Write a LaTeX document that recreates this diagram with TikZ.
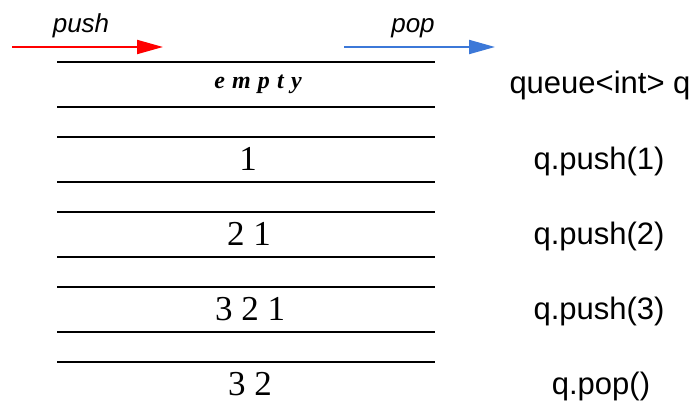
\documentclass[tikz,border=0pt]{standalone}
\usepackage{fontspec}
\setmainfont{Liberation Serif}
\newfontfamily\arialfont{Liberation Sans}
\newfontfamily\emptyfont[LetterSpace=30]{Liberation Serif Bold Italic}
\usetikzlibrary{arrows.meta}
\definecolor{pushred}{RGB}{255,0,0}
\definecolor{popblue}{RGB}{60,120,216}
\begin{document}
\begin{tikzpicture}[x=1pt,y=-1pt,
  rowline/.style={line width=2pt,black},
  digits/.style={anchor=base,inner sep=0pt,font=\fontsize{35}{40}\selectfont},
  oplabel/.style={anchor=base,inner sep=0pt,font=\arialfont\fontsize{31}{36}\selectfont},
  arrlabel/.style={anchor=base,inner sep=0pt,font=\arialfont\itshape\fontsize{26}{30}\selectfont},
  flowarrow/.style={line width=2pt,-{Triangle[length=26pt,width=14pt]}}]
\useasboundingbox (0,0) rectangle (697,403);
% arrows
\coordinate (pushS) at (12,47);
\coordinate (pushE) at (163,47);
\coordinate (popS) at (344,47);
\coordinate (popE) at (495,47);
\draw[flowarrow,pushred] (pushS) -- (pushE);
\draw[flowarrow,popblue] (popS) -- (popE);
\node[arrlabel] (pushlbl) at (81,33) {push};
\node[arrlabel] (poplbl) at (413,33) {pop};
% row lines
\foreach \y in {62,107,137,182,212,257,287,332,362}
  \draw[rowline] (57,\y) -- (435,\y);
% contents
\node[anchor=base,inner sep=0pt,font=\emptyfont\fontsize{24}{28}\selectfont] (e0) at (258,89) {empty};
\node[digits] (r1) at (248,171) {1};
\node[digits] (r2) at (249,246) {2 1};
\node[digits] (r3) at (250,321) {3 2 1};
\node[digits] (r4) at (250,396) {3 2};
% operations
\node[oplabel] (o0) at (600,94) {queue<int> q};
\node[oplabel] (o1) at (599,170) {q.push(1)};
\node[oplabel] (o2) at (599,245) {q.push(2)};
\node[oplabel] (o3) at (599,320) {q.push(3)};
\node[oplabel] (o4) at (601,395) {q.pop()};
\end{tikzpicture}
\end{document}
